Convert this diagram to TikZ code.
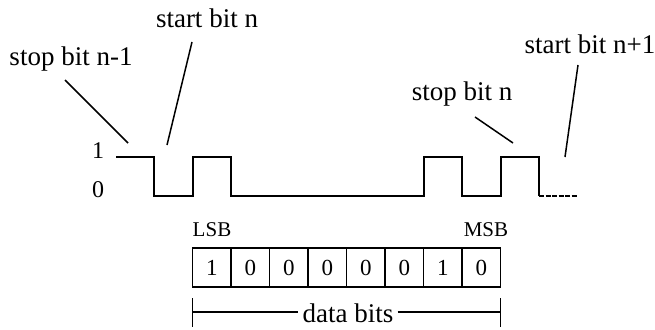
\documentclass[tikz,border=0pt]{standalone}
\usepackage{fontspec}
\setmainfont{Liberation Serif}
\begin{document}
\begin{tikzpicture}[x=1pt,y=-1pt,
  lbl/.style={font=\fontsize{27}{31}\selectfont, inner sep=0pt, anchor=base},
  lvl/.style={font=\fontsize{24}{28}\selectfont, inner sep=0pt, anchor=base},
  sig/.style={line width=2pt, line join=miter},
  leader/.style={line width=1.5pt},
  cell/.style={draw, line width=1.3pt, minimum width=38.5pt, minimum height=39pt,
    inner sep=0pt, font=\fontsize{23}{27}\selectfont},
  tag/.style={font=\fontsize{21}{25}\selectfont, inner sep=0pt, anchor=base},
  dim/.style={line width=1.3pt}]
\useasboundingbox (0,0) rectangle (655,329);

% signal levels
\node[lvl] (one)  at (98,158) {1};
\node[lvl] (zero) at (98,197) {0};

% serial waveform: idle high, start bit, data bits 1 0 0 0 0 0 1 0, stop bit
\def\hi{157}\def\lo{196}
\draw[sig] (116,\hi) -- (154,\hi) -- (154,\lo) -- (192.5,\lo) -- (192.5,\hi)
  -- (231,\hi) -- (231,\lo) -- (423.5,\lo) -- (423.5,\hi) -- (462,\hi)
  -- (462,\lo) -- (500.5,\lo) -- (500.5,\hi) -- (539,\hi) -- (539,\lo);
\draw[line width=1.4pt, dash pattern=on 5pt off 1.5pt] (539,\lo) -- (577.5,\lo);

% labels with leader lines
\node[lbl] (stopprev) at (71,65) {stop bit n-1};
\node[lbl] (startn)   at (207,28) {start bit n};
\node[lbl] (stopn)    at (462,100) {stop bit n};
\node[lbl] (startnext) at (590,53) {start bit n+1};

\coordinate (l1a) at (65,80);   \coordinate (l1b) at (128,143);
\coordinate (l2a) at (192,42);  \coordinate (l2b) at (167,145);
\coordinate (l3a) at (475,117); \coordinate (l3b) at (513,143);
\coordinate (l4a) at (578,65);  \coordinate (l4b) at (565,157);
\draw[leader] (l1a) -- (l1b);
\draw[leader] (l2a) -- (l2b);
\draw[leader] (l3a) -- (l3b);
\draw[leader] (l4a) -- (l4b);

% data register
\foreach \b [count=\i] in {1,0,0,0,0,0,1,0} {
  \node[cell] (c\i) at ({192.5+38.5*(\i-0.5)},267.5) {\b};
}
\node[tag] (lsb) at (212,236) {LSB};
\node[tag] (msb) at (486,236) {MSB};

% dimension line for the data bits
\coordinate (dl) at (192.5,312);
\coordinate (dr) at (500.5,312);
\node[lbl, inner xsep=4pt] (dbits) at (348,322) {data bits};
\draw[dim] (192.5,298) -- (192.5,327);
\draw[dim] (500.5,298) -- (500.5,327);
\draw[dim] (dl) -- (dl -| dbits.west);
\draw[dim] (dbits.east |- dr) -- (dr);
\end{tikzpicture}
\end{document}
